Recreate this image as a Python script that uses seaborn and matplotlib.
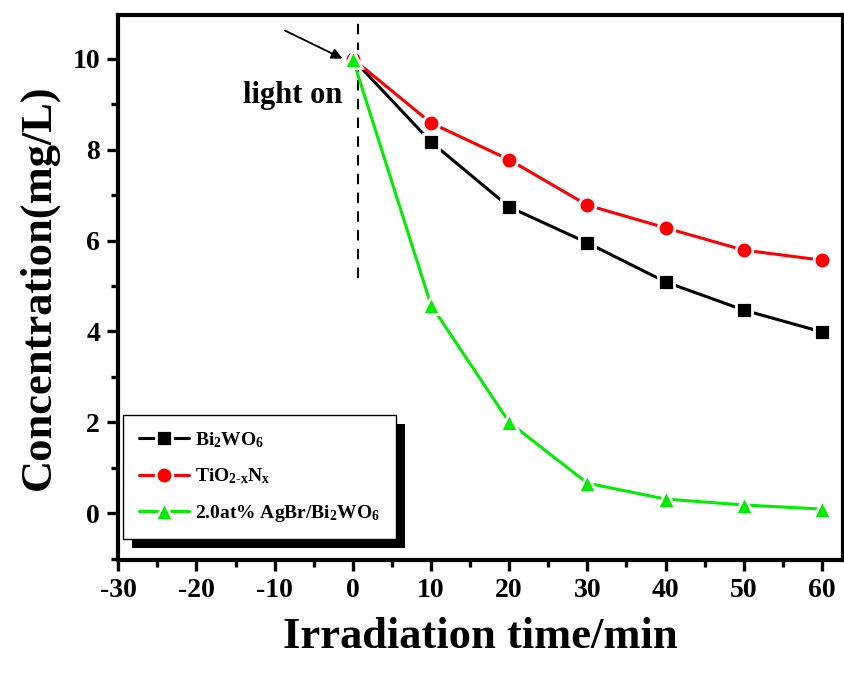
import matplotlib
matplotlib.use("Agg")
import matplotlib.pyplot as plt
import seaborn as sns
import numpy as np
import pandas as pd
from matplotlib.patches import Rectangle
from matplotlib.ticker import MultipleLocator

time = [0, 10, 20, 30, 40, 50, 60]
bi2wo6 = [10.0, 8.17, 6.74, 5.95, 5.09, 4.47, 3.99]
tio2 = [10.0, 8.59, 7.78, 6.78, 6.28, 5.79, 5.57]
agbr = [10.0, 4.58, 2.0, 0.66, 0.31, 0.18, 0.09]
labels = [r"Bi$\mathregular{_2}$WO$\mathregular{_6}$",
          "TiO$\\mathregular{_{2\u2010x}}$N$\\mathregular{_x}$",
          r"2.0at% AgBr/Bi$\mathregular{_2}$WO$\mathregular{_6}$"]
colors = ["black", "#ff0000", "#00ee00"]
markers = ["s", "o", "^"]
xticks = [-30, -20, -10, 0, 10, 20, 30, 40, 50, 60]
yticks = [0, 2, 4, 6, 8, 10]

sns.set_style("ticks")
plt.rcParams["font.family"] = ["Liberation Serif", "DejaVu Serif"]
plt.rcParams["font.weight"] = "bold"
plt.rcParams["mathtext.default"] = "regular"
plt.rcParams["axes.unicode_minus"] = False
for k in ["text.color", "axes.labelcolor", "xtick.color", "ytick.color", "axes.edgecolor"]:
    plt.rcParams[k] = "black"

fig = plt.figure(figsize=(8.45, 6.73), dpi=100)
ax = fig.add_axes([0.14, 0.168, 0.8576, 0.81])

series = [bi2wo6, tio2, agbr]
sizes = [11, 12, 13]
for vals, lab, c, m, ms in zip(series, labels, colors, markers, sizes):
    df = pd.DataFrame({"t": time, "c": vals})
    sns.lineplot(data=df, x="t", y="c", ax=ax, color=c, marker=m, markersize=ms,
                 markeredgecolor="white", markeredgewidth=2.0, linewidth=2.2,
                 label=lab, zorder=3)

ax.set_xlim(-30, 62.7)
ax.set_ylim(-1.03, 10.97)
ax.set_xticks(xticks)
ax.set_yticks(yticks)
ax.xaxis.set_minor_locator(MultipleLocator(5))
ax.yaxis.set_minor_locator(MultipleLocator(1))
ax.tick_params(which="major", direction="out", length=8, width=2.4, labelsize=20, pad=5)
ax.tick_params(which="minor", direction="out", length=5, width=2.4)
for lab in ax.get_xticklabels() + ax.get_yticklabels():
    lab.set_fontweight("bold")
for s in ax.spines.values():
    s.set_linewidth(3.0)
    s.set_visible(True)

ax.set_xlabel("Irradiation time/min", fontsize=32, fontweight="bold", labelpad=10)
ax.set_ylabel("Concentration(mg/L)", fontsize=32, fontweight="bold", labelpad=10)

# light on marker
ax.plot([0.6, 0.6], [5.18, 10.97], color="black", linestyle=(0, (5, 4)), linewidth=1.5, zorder=2)
ax.text(-7.7, 9.2, "light on", fontsize=22, fontweight="bold", ha="center", va="center")
ax.annotate("", xy=(-1.0, 9.98), xytext=(-9.0, 10.65),
            arrowprops=dict(arrowstyle="-|>", color="black", lw=1.3, mutation_scale=16))

leg = ax.legend(loc="lower left", bbox_to_anchor=(0.007, 0.038), fontsize=14,
                frameon=True, fancybox=False, edgecolor="black", framealpha=1,
                handlelength=2.6, labelspacing=0.85, borderpad=0.8, borderaxespad=0,
                handletextpad=0.3)
leg.get_frame().set_linewidth(1.0)
for t in leg.get_texts():
    t.set_fontweight("bold")

fig.canvas.draw()
bb = leg.get_window_extent()
inv = fig.transFigure.inverted()
(x0, y0) = inv.transform((bb.x0 + 9, bb.y0 - 9))
(x1, y1) = inv.transform((bb.x1 + 9, bb.y1 - 9))
fig.add_artist(Rectangle((x0, y0), x1 - x0, y1 - y0, transform=fig.transFigure,
                         facecolor="black", edgecolor="none", zorder=ax.get_zorder() + 0.5))
leg.set_zorder(10)
ax.set_zorder(2)
ax.patch.set_alpha(0)

fig.savefig("out.png", dpi=100)
